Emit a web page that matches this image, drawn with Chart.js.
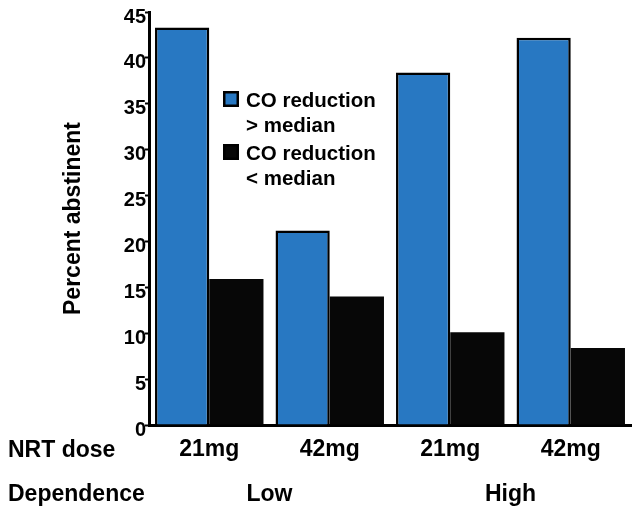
<!DOCTYPE html>
<html>
<head>
<meta charset="utf-8">
<script src="https://cdn.jsdelivr.net/npm/chart.js@4.4.1/dist/chart.umd.min.js"></script>
<style>
  html, body { margin: 0; padding: 0; background: #fff; }
  canvas { display: block; }
</style>
</head>
<body>
<canvas id="c" width="641" height="515"></canvas>
<script>
// ---- data ----
const doseLabels = ['21mg', '42mg', '21mg', '42mg'];
const dependenceLabels = ['Low', 'High'];
const rowTitles = ['NRT dose', 'Dependence'];
const seriesNames = [['CO reduction', '> median'], ['CO reduction', '< median']];
const aboveMedian = [43.3, 21.2, 38.4, 42.2];
const belowMedian = [15.9, 14.0, 10.1, 8.4];
const yMin = 0, yMax = 45, yStep = 5;
const yTitle = 'Percent abstinent';

const FONT = '"Liberation Sans", Arial, Helvetica, sans-serif';
const BLUE = '#2878c2';
const BLACK = '#070707';

const overlayPlugin = {
  id: 'overlay',
  afterDraw(chart) {
    const ctx = chart.ctx;
    const xs = chart.scales.x;
    ctx.save();
    ctx.fillStyle = '#000';
    ctx.textBaseline = 'alphabetic';
    ctx.font = 'bold 23px ' + FONT;
    ctx.textAlign = 'left';
    ctx.fillText(rowTitles[0], 8, 457);
    ctx.fillText(rowTitles[1], 8, 501);
    ctx.textAlign = 'center';
    dependenceLabels.forEach((lab, i) => {
      const a = xs.getPixelForValue(i * 2), b = xs.getPixelForValue(i * 2 + 1);
      ctx.fillText(lab, (a + b) / 2, 501);
    });
    // legend inside plot
    const ds = chart.data.datasets;
    const lx = 223, ly = [91, 144];
    ctx.font = 'bold 20.5px ' + FONT;
    ctx.textAlign = 'left';
    ds.forEach((d, i) => {
      ctx.fillStyle = d.backgroundColor;
      ctx.fillRect(lx, ly[i], 16, 16);
      ctx.lineWidth = 2.5;
      ctx.strokeStyle = '#000';
      ctx.strokeRect(lx + 1.25, ly[i] + 1.25, 13.5, 13.5);
      ctx.fillStyle = '#000';
      d.label.forEach((line, j) => {
        ctx.fillText(line, 246, ly[i] + 16 + j * 24.5);
      });
    });
    ctx.restore();
  }
};

new Chart(document.getElementById('c'), {
  type: 'bar',
  data: {
    labels: doseLabels,
    datasets: [
      { label: seriesNames[0], data: aboveMedian, backgroundColor: BLUE, borderColor: '#000', borderWidth: 2.5, categoryPercentage: 0.9, barPercentage: 1.0 },
      { label: seriesNames[1], data: belowMedian, backgroundColor: BLACK, borderColor: BLACK, borderWidth: 0, categoryPercentage: 0.9, barPercentage: 1.0 }
    ]
  },
  options: {
    responsive: false,
    animation: false,
    layout: { padding: { left: 0, right: 10, top: 12, bottom: 0 } },
    plugins: { legend: { display: false }, tooltip: { enabled: false } },
    scales: {
      x: {
        grid: { display: false, drawTicks: false },
        border: { display: true, color: '#000', width: 3 },
        ticks: { color: '#000', font: { family: FONT, size: 23, weight: 'bold' }, padding: 11, maxRotation: 0 },
        afterFit(s) { s.height = 90; s.paddingLeft = 0; s.paddingRight = 0; }
      },
      y: {
        min: yMin, max: yMax,
        grid: { drawOnChartArea: false, drawTicks: true, tickLength: 4, tickWidth: 2, tickColor: '#000' },
        border: { display: true, color: '#000', width: 3 },
        ticks: { stepSize: yStep, color: '#000', font: { family: FONT, size: 20, weight: 'bold' }, padding: -1, labelOffset: 5 },
        title: { display: true, text: yTitle, color: '#000', font: { family: FONT, size: 23, weight: 'bold' }, padding: { top: 60, bottom: 0 } },
        afterFit(s) { s.width = 149; s.paddingTop = 0; s.paddingBottom = 0; }
      }
    }
  },
  plugins: [overlayPlugin]
});
</script>
</body>
</html>
